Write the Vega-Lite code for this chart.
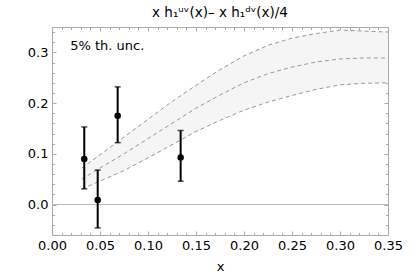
{
  "$schema": "https://vega.github.io/schema/vega-lite/v6.json",
  "width": 336,
  "height": 208,
  "autosize": "none",
  "padding": {"left": 52, "top": 27, "right": 27, "bottom": 42},
  "background": "white",
  "config": {
    "view": {"stroke": "#aaaaaa", "strokeWidth": 1},
    "font": "DejaVu Sans",
    "axis": {"domain": false, "grid": false, "tickColor": "#aaaaaa", "labelFont": "DejaVu Sans", "labelFontSize": 13, "labelColor": "#000000", "titleFont": "DejaVu Sans", "titleFontWeight": "normal", "titleFontSize": 13, "titleColor": "#000000"}
  },
  "title": {"text": "x h₁ᵘᵛ(x)– x h₁ᵈᵛ(x)/4", "fontSize": 13.5, "font": "DejaVu Sans", "fontWeight": "normal", "color": "#000000", "offset": 7},
  "datasets": {
    "band": [
      {"x": 0.031, "lo": 0.031, "mid": 0.050, "hi": 0.072},
      {"x": 0.05, "lo": 0.046, "mid": 0.072, "hi": 0.098},
      {"x": 0.075, "lo": 0.067, "mid": 0.100, "hi": 0.133},
      {"x": 0.1, "lo": 0.092, "mid": 0.130, "hi": 0.168},
      {"x": 0.125, "lo": 0.118, "mid": 0.160, "hi": 0.203},
      {"x": 0.15, "lo": 0.144, "mid": 0.190, "hi": 0.235},
      {"x": 0.175, "lo": 0.166, "mid": 0.216, "hi": 0.266},
      {"x": 0.2, "lo": 0.186, "mid": 0.240, "hi": 0.293},
      {"x": 0.225, "lo": 0.202, "mid": 0.258, "hi": 0.314},
      {"x": 0.25, "lo": 0.215, "mid": 0.271, "hi": 0.328},
      {"x": 0.275, "lo": 0.227, "mid": 0.281, "hi": 0.337},
      {"x": 0.3, "lo": 0.236, "mid": 0.287, "hi": 0.344},
      {"x": 0.325, "lo": 0.239, "mid": 0.289, "hi": 0.342},
      {"x": 0.35, "lo": 0.240, "mid": 0.289, "hi": 0.340}
    ],
    "pts": [
      {"x": 0.0336, "y": 0.090, "lo": 0.031, "hi": 0.153},
      {"x": 0.0476, "y": 0.009, "lo": -0.046, "hi": 0.068},
      {"x": 0.0684, "y": 0.175, "lo": 0.122, "hi": 0.232},
      {"x": 0.134, "y": 0.093, "lo": 0.046, "hi": 0.146}
    ],
    "zero": [{"y": 0}],
    "note": [{"x": 0.019, "y": 0.313, "label": "5% th. unc."}]
  },
  "resolve": {"axis": {"x": "independent", "y": "independent"}},
  "layer": [
    {
      "data": {"name": "band"},
      "mark": {"type": "area", "color": "#f5f5f5", "opacity": 1},
      "encoding": {
        "x": {"field": "x", "type": "quantitative", "scale": {"domain": [0, 0.35], "nice": false, "zero": false},
          "axis": {"orient": "bottom", "title": "x", "values": [0,0.01,0.02,0.03,0.04,0.05,0.06,0.07,0.08,0.09,0.1,0.11,0.12,0.13,0.14,0.15,0.16,0.17,0.18,0.19,0.2,0.21,0.22,0.23,0.24,0.25,0.26,0.27,0.28,0.29,0.3,0.31,0.32,0.33,0.34,0.35],
            "labelExpr": "round(datum.value*100) % 5 === 0 ? format(datum.value, '.2f') : ''",
            "tickSize": {"condition": {"test": "round(datum.value*100) % 5 === 0", "value": -4}, "value": -2.5},
            "labelPadding": 8, "labelFlush": false, "labelOverlap": false, "titlePadding": 7}},
        "y": {"field": "lo", "type": "quantitative", "scale": {"domain": [-0.06, 0.35], "nice": false, "zero": false},
          "axis": {"orient": "left", "title": null, "values": [-0.06,-0.04,-0.02,0,0.02,0.04,0.06,0.08,0.1,0.12,0.14,0.16,0.18,0.2,0.22,0.24,0.26,0.28,0.3,0.32,0.34],
            "labelExpr": "round(datum.value*100) % 10 === 0 ? format(datum.value, '.1f') : ''",
            "tickSize": {"condition": {"test": "round(datum.value*100) % 10 === 0", "value": -4}, "value": -2.5},
            "labelPadding": 8, "labelFlush": false, "labelOverlap": false}},
        "y2": {"field": "hi"}
      }
    },
    {
      "data": {"name": "zero"},
      "mark": {"type": "rule", "color": "#bbbbbb", "strokeWidth": 1},
      "encoding": {
        "y": {"field": "y", "type": "quantitative",
          "axis": {"orient": "right", "title": null, "labels": false, "values": [-0.06,-0.04,-0.02,0,0.02,0.04,0.06,0.08,0.1,0.12,0.14,0.16,0.18,0.2,0.22,0.24,0.26,0.28,0.3,0.32,0.34],
            "tickSize": {"condition": {"test": "round(datum.value*100) % 10 === 0", "value": -4}, "value": -2.5}}}
      }
    },
    {
      "data": {"name": "band"},
      "transform": [{"fold": ["lo", "mid", "hi"], "as": ["k", "v"]}],
      "mark": {"type": "line", "color": "#999999", "strokeWidth": 1, "strokeDash": [4, 3]},
      "encoding": {
        "x": {"field": "x", "type": "quantitative",
          "axis": {"orient": "top", "title": null, "labels": false, "values": [0,0.01,0.02,0.03,0.04,0.05,0.06,0.07,0.08,0.09,0.1,0.11,0.12,0.13,0.14,0.15,0.16,0.17,0.18,0.19,0.2,0.21,0.22,0.23,0.24,0.25,0.26,0.27,0.28,0.29,0.3,0.31,0.32,0.33,0.34,0.35],
            "tickSize": {"condition": {"test": "round(datum.value*100) % 5 === 0", "value": -4}, "value": -2.5}}},
        "y": {"field": "v", "type": "quantitative", "axis": null},
        "detail": {"field": "k"}
      }
    },
    {
      "data": {"name": "pts"},
      "mark": {"type": "rule", "color": "#000000", "strokeWidth": 2},
      "encoding": {
        "x": {"field": "x", "type": "quantitative", "axis": null},
        "y": {"field": "lo", "type": "quantitative", "axis": null},
        "y2": {"field": "hi"}
      }
    },
    {
      "data": {"name": "pts"},
      "mark": {"type": "tick", "color": "#000000", "size": 6, "thickness": 1.5, "orient": "horizontal"},
      "encoding": {
        "x": {"field": "x", "type": "quantitative", "axis": null},
        "y": {"field": "lo", "type": "quantitative", "axis": null}
      }
    },
    {
      "data": {"name": "pts"},
      "mark": {"type": "tick", "color": "#000000", "size": 6, "thickness": 1.5, "orient": "horizontal"},
      "encoding": {
        "x": {"field": "x", "type": "quantitative", "axis": null},
        "y": {"field": "hi", "type": "quantitative", "axis": null}
      }
    },
    {
      "data": {"name": "pts"},
      "mark": {"type": "circle", "color": "#000000", "size": 42, "opacity": 1},
      "encoding": {
        "x": {"field": "x", "type": "quantitative", "axis": null},
        "y": {"field": "y", "type": "quantitative", "axis": null}
      }
    },
    {
      "data": {"name": "note"},
      "mark": {"type": "text", "align": "left", "baseline": "middle", "fontSize": 13, "font": "DejaVu Sans", "color": "#000000"},
      "encoding": {
        "x": {"field": "x", "type": "quantitative", "axis": null},
        "y": {"field": "y", "type": "quantitative", "axis": null},
        "text": {"field": "label"}
      }
    }
  ]
}
